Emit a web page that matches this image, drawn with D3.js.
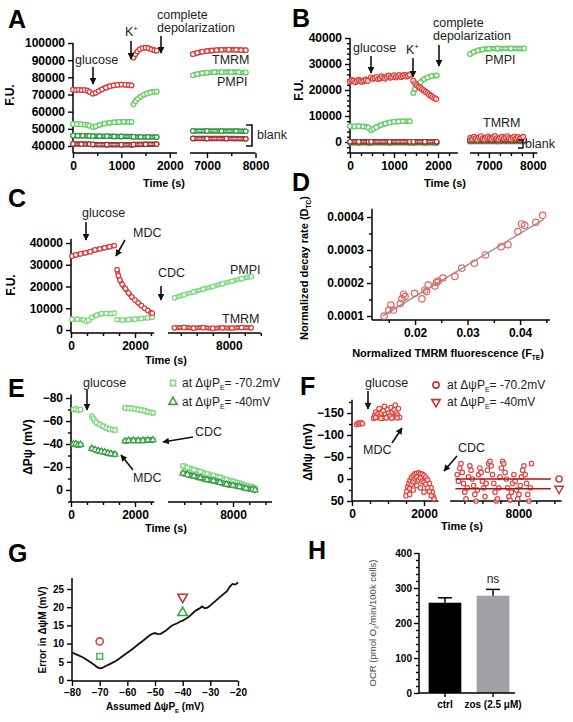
<!DOCTYPE html>
<html><head><meta charset="utf-8">
<script src="https://cdn.jsdelivr.net/npm/d3@7"></script>
<style>
body{margin:0;background:#fff;}
svg text{font-family:"Liberation Sans",Arial,Helvetica,sans-serif;}
</style></head><body>
<script>
// ---------------- DATA ----------------
const RED = "#d8423e", DRED = "#a33434", GRN = "#66cf66", DGRN = "#2f9a45";
const LGRN_E = "#86d886", DGRN_E = "#3e9f4c";

// Panel A (time s, F.U.)
const A_TMRM = [
  [[0,72800],[60,72600],[120,72700],[180,72500],[240,72600],[300,72200],[340,71500]],
  [[410,70500],[470,71000],[530,72000],[600,73000],[680,74000],[760,74800],[840,75300],[920,75600],[1000,75800],[1080,75700],[1150,75500],[1210,75300]],
  [[1250,91500],[1290,93500],[1330,95000],[1380,96300],[1440,97000],[1500,97300],[1560,97000],[1620,96300],[1680,95800],[1730,95500]],
  [[6710,93500],[6800,94300],[6900,94900],[7000,95300],[7100,95600],[7200,95800],[7300,96000],[7450,96100],[7600,96000],[7700,95900],[7800,95800]]
];
const A_PMPI = [
  [[0,52800],[80,52700],[160,52600],[240,52500],[300,52300],[340,51800]],
  [[410,51000],[470,51500],[550,52300],[650,53000],[750,53500],[850,53800],[950,54000],[1050,54100],[1150,54000],[1210,54000]],
  [[1250,64300],[1290,66000],[1340,67500],[1400,68800],[1460,69800],[1530,70600],[1600,71200],[1680,71600],[1730,71700]],
  [[6710,81200],[6800,81900],[6900,82400],[7000,82700],[7150,83000],[7300,83100],[7500,83100],[7650,83000],[7800,82800]]
];
const A_blankG = [
  [[0,46100],[100,46000],[200,46000],[300,45900],[340,45900]],
  [[410,45800],[550,45700],[700,45700],[850,45600],[1000,45600],[1210,45500]],
  [[1250,45400],[1400,45300],[1550,45300],[1730,45200]],
  [[6710,48800],[7000,48800],[7300,48700],[7600,48700],[7800,48600]]
];
const A_blankR = [
  [[0,41200],[170,41100],[340,41100]],
  [[410,40900],[700,40800],[1000,40800],[1210,40700]],
  [[1250,40900],[1500,41000],[1730,41100]],
  [[6710,44400],[7000,44300],[7400,44300],[7800,44200]]
];
const A_yTicks = [40000,50000,60000,70000,80000,90000,100000];

// Panel B
const B_TMRM = [
  [[0,23300],[40,23800],[80,23500],[120,23000],[160,23600],[200,23900],[240,23400],[280,23200],[320,23700],[360,24000],[400,23500]],
  [[480,24800],[520,24300],[560,24600],[600,25000],[640,24200],[680,24500],[720,25200],[760,24700],[800,24400],[840,25100],[880,25500],[920,24800],[960,25000],[1000,25600],[1040,24900],[1080,25300],[1120,25700],[1160,25000],[1200,25400],[1240,25800],[1280,25200],[1320,25500],[1360,25900]],
  [[1440,23500],[1480,22500],[1520,21800],[1560,21200],[1600,20800],[1640,20200],[1680,19800],[1720,19300],[1760,18800],[1800,18200],[1840,17800],[1880,17300],[1920,16900],[1960,16500]],
  [[6580,1600],[6620,1100],[6660,2000],[6700,1400],[6740,900],[6780,1800],[6820,2200],[6860,1300],[6900,1000],[6940,1700],[6980,2100],[7020,1500],[7060,1200],[7100,1900],[7140,2300],[7180,1400],[7220,1000],[7260,1600],[7300,2000],[7340,1300],[7380,1800],[7420,2200],[7460,1500],[7500,1100],[7540,1700],[7580,2100],[7620,1400],[7660,1900],[7700,1200],[7740,1600],[7780,2000]]
];
const B_PMPI = [
  [[0,6100],[100,6000],[200,6100],[300,6000],[380,5800],[420,5500]],
  [[480,4500],[530,5000],[600,5700],[700,6500],[800,7100],[900,7500],[1000,7800],[1100,7900],[1200,8000],[1360,8000]],
  [[1440,18800],[1480,20500],[1530,21800],[1600,23000],[1680,24100],[1760,24800],[1850,25300],[1970,25600]],
  [[6570,33800],[6650,34600],[6750,35200],[6850,35600],[7000,35900],[7200,36000],[7500,36000],[7800,36000]]
];
const B_blankG = [
  [[0,-300],[200,-300],[420,-300]],
  [[480,-300],[900,-300],[1360,-300]],
  [[1440,-300],[1700,-300],[1970,-300]],
  [[6570,200],[7200,200],[7800,200]]
];
const B_blankR = [
  [[0,100],[200,100],[420,100]],
  [[480,100],[900,100],[1360,100]],
  [[1440,100],[1700,100],[1970,100]],
  [[6570,700],[7200,700],[7800,700]]
];
const B_yTicks = [0,10000,20000,30000,40000];

// Panel C
const C_TMRM = [
  [[30,34000],[150,34500],[300,35000],[450,35500],[600,36000],[750,36800],[900,37300],[1050,37800],[1200,38300],[1350,38800]],
  [[1440,27800],[1480,25000],[1530,23000],[1600,21000],[1700,19000],[1800,17000],[1900,15200],[2000,13800],[2100,12500],[2200,11200],[2300,10000],[2400,9000],[2500,8000],[2540,7700]],
  [[6300,1000],[6600,1200],[6900,900],[7200,1100],[7500,800],[7800,1000],[8100,900],[8400,1100],[8700,1000]]
];
const C_PMPI = [
  [[30,5000],[200,5000],[400,4700],[480,4000],[550,4500],[650,5800],[800,6800],[950,7500],[1100,7600],[1250,7500],[1350,7800]],
  [[1440,4800],[1600,4600],[1800,4800],[2000,5000],[2200,5300],[2400,5600],[2540,5900]],
  [[6300,14800],[6600,16200],[6900,17500],[7200,18800],[7500,20000],[7800,21300],[8100,22500],[8400,23600],[8700,24600]]
];
const C_yTicks = [0,10000,20000,30000,40000];

// Panel D
const D_x = [0.0141,0.0150,0.0154,0.0159,0.0172,0.0175,0.0178,0.0181,0.0199,0.0213,0.0219,0.0222,0.0225,0.0238,0.0241,0.0244,0.0253,0.0276,0.0289,0.0313,0.0334,0.0364,0.0377,0.0396,0.0403,0.0409,0.0430,0.0443];
const D_y = [0.000100,0.000118,0.000133,0.000118,0.000138,0.000152,0.000166,0.000159,0.000169,0.000152,0.000179,0.000174,0.000194,0.000191,0.000202,0.000206,0.000215,0.000220,0.000245,0.000260,0.000285,0.000310,0.000316,0.000356,0.000379,0.000375,0.000384,0.000405];
const D_fitX = [0.0138,0.0445];
const D_fitY = [0.000100,0.000393];
const D_yTicks = [0.0001,0.0002,0.0003,0.0004];
const D_xTicks = [0.02,0.03,0.04];

// Panel E
const E_at70 = [
  [[80,-70],[150,-70.5],[220,-69.5],[300,-70]],
  [[650,-64],[700,-62],[750,-60],[800,-58.5],[900,-57],[1000,-55.5],[1100,-54],[1200,-53],[1300,-52.5],[1375,-52]],
  [[1690,-71.5],[1800,-71],[1900,-71],[2000,-70.5],[2100,-70],[2200,-69.5],[2300,-69],[2400,-68],[2500,-67.5],[2560,-67]],
  [[6460,-21],[6600,-19.5],[6800,-17.5],[7000,-16],[7200,-14],[7400,-12.5],[7600,-11],[7800,-9],[8000,-7.5],[8200,-6],[8400,-4],[8600,-2.5],[8680,-1.5]]
];
const E_at40 = [
  [[80,-40],[150,-40],[220,-39],[300,-39.5]],
  [[650,-36],[750,-35],[850,-34],[950,-33.5],[1050,-33],[1150,-32],[1250,-31.5],[1375,-31]],
  [[1690,-42.5],[1800,-43],[1950,-43],[2100,-43],[2250,-43],[2400,-43.5],[2560,-43.5]],
  [[6460,-14.5],[6600,-13.5],[6800,-12],[7000,-10.5],[7200,-9],[7400,-8],[7600,-6.5],[7800,-5],[8000,-4],[8200,-3],[8400,-1.5],[8600,-0.5],[8680,0]]
];
const E_yTicks = [0,-20,-40,-60,-80];

// Panel F
const F_pts = [
  [130,-124],[170,-127],[210,-125],[250,-128],[290,-126],
  [600,-138],[630,-145],[660,-152],[690,-140],[720,-148],[750,-160],[780,-143],[810,-150],[840,-138],[870,-155],[900,-165],[930,-147],[960,-140],[990,-158],[1020,-150],[1050,-143],[1080,-162],[1110,-152],[1140,-140],[1170,-157],[1200,-168],[1230,-150],[1260,-145],[1290,-160],[1320,-140],[650,-140],[800,-138],[950,-139],[1100,-138],[1250,-139],
  [1500,38],[1520,28],[1550,18],[1580,10],[1610,3],[1650,-3],[1700,-8],[1750,-12],[1800,-13],[1850,-14],[1900,-12],[1950,-11],[2000,-8],[2050,-4],[2100,2],[2150,10],[2200,20],[2230,30],[2260,40],[2280,45],[1600,22],[1650,12],[1700,6],[1750,0],[1800,-4],[1850,2],[1900,-2],[1950,5],[2000,8],[2050,12],[2100,20],[2150,28],[2200,38],[1700,25],[1800,15],[1900,20],[2000,30],[1600,35],
  [6300,-10],[6335,5],[6370,-25],[6405,-35],[6440,-15],[6475,10],[6510,30],[6545,45],[6580,20],[6615,-5],[6650,-30],[6685,-20],[6720,0],[6755,15],[6790,35],[6825,50],[6860,25],[6895,-10],[6930,-25],[6965,-15],[7000,5],[7035,20],[7070,40],[7105,10],[7140,-20],[7175,-35],[7210,-40],[7245,-30],[7280,-10],[7315,10],[7350,30],[7385,50],[7420,45],[7455,20],[7490,-5],[7525,-25],[7560,-40],[7595,-35],[7630,-15],[7665,0],[7700,20],[7735,40],[7770,48],[7805,30],[7840,10],[7875,-10],[7910,5],[7945,25],[7980,45],[8015,35],[8050,15],[8085,-5],[8120,-20],[8155,-30],[8190,-10],[8225,10],[8260,35],[8295,50],[8330,20],[8365,-35]
];
const F_lines = [0, 22];
const F_lineT = [6250, 8900];
const F_yTicks = [50,0,-50,-100,-150];

// Panel G
const G_curve = [[-80,7.5],[-78,6.9],[-76,6.2],[-74,5.2],[-72,4.2],[-71,3.6],[-70,3.2],[-69,3.3],[-68,3.8],[-66,4.5],[-64,5.3],[-62,6.4],[-60,7.5],[-58,8.6],[-56,9.8],[-54,11],[-52,12.2],[-51,12.7],[-50,12.9],[-49,12.6],[-48,12.7],[-46,13.6],[-44,14.9],[-42,15.6],[-41,16],[-40,16.3],[-38,17.2],[-36,18.6],[-35,19.2],[-34,19.6],[-33,20.2],[-32,19.7],[-31,19.9],[-30,20.5],[-28,21.8],[-26,23.1],[-24,24.4],[-23,25.6],[-22,26.4],[-21,26.2],[-20,26.8]];
const G_marks = [
  {x:-70, y:10.6, shape:"circle", color:RED},
  {x:-70, y:6.5, shape:"square", color:"#4cbf4c"},
  {x:-40, y:22.8, shape:"down", color:"#b83a3a"},
  {x:-40, y:18.5, shape:"up", color:"#3aa648"}
];
const G_xTicks = [-80,-70,-60,-50,-40,-30,-20];
const G_yTicks = [0,5,10,15,20,25];

// Panel H
const H_cats = ["ctrl","zos (2.5 \u03bcM)"];
const H_vals = [258, 278];
const H_err = [14, 18];
const H_colors = ["#000000","#a2a2a6"];
const H_yTicks = [0,100,200,300,400];
const H_yMinor = [20,40,60,80,120,140,160,180,220,240,260,280,320,340,360,380];

// ---------------- DRAWING ----------------
const svg = d3.select("body").append("svg").attr("width",573).attr("height",722);

function styleAxis(sel, fs){
  sel.selectAll("path.domain").remove();
  sel.selectAll("line").attr("stroke","#000").attr("stroke-width",1.4);
  sel.selectAll("text").attr("font-size",fs).attr("font-weight","bold").attr("fill","#000");
}
function vline(g,x,y1,y2){ g.append("line").attr("x1",x).attr("x2",x).attr("y1",y1).attr("y2",y2).attr("stroke","#000").attr("stroke-width",1.5); }
function hline(g,y,x1,x2){ g.append("line").attr("x1",x1).attr("x2",x2).attr("y1",y).attr("y2",y).attr("stroke","#000").attr("stroke-width",1.5); }

function axes(o){
  const g = svg.append("g");
  const x0 = o.xs[0].s.range()[0];
  const fs = o.fs || 12;
  styleAxis(g.append("g").attr("transform",`translate(${x0},0)`)
    .call(d3.axisLeft(o.y).tickValues(o.yTicks).tickSize(5).tickPadding(3).tickFormat(o.yFmt || d3.format("d"))), fs);
  if (o.yMinor) styleAxis(g.append("g").attr("transform",`translate(${x0},0)`)
    .call(d3.axisLeft(o.y).tickValues(o.yMinor).tickSize(3).tickFormat("")), fs);
  vline(g, x0, o.xAxisY, o.y(o.yTop));
  o.xs.forEach(a=>{
    styleAxis(g.append("g").attr("transform",`translate(0,${o.xAxisY})`)
      .call(d3.axisBottom(a.s).tickValues(a.major).tickSize(5).tickPadding(3).tickFormat(a.fmt || d3.format("d"))), fs);
    if (a.minor) styleAxis(g.append("g").attr("transform",`translate(0,${o.xAxisY})`)
      .call(d3.axisBottom(a.s).tickValues(a.minor).tickSize(3).tickFormat("")), fs);
    hline(g, o.xAxisY, a.s.range()[0], a.s.range()[1]);
  });
  return g;
}

function txt(x,y,s,opt={}){
  return svg.append("text").attr("x",x).attr("y",y).text(s)
    .attr("font-size",opt.fs||12.5).attr("fill",opt.fill||"#222")
    .attr("font-weight",opt.bold?"bold":"normal").attr("text-anchor",opt.anchor||"start");
}
function rtxt(x,y,s,opt={}){
  return svg.append("text").attr("transform",`translate(${x},${y}) rotate(-90)`)
    .attr("text-anchor","middle").attr("font-size",opt.fs||12).attr("font-weight",opt.bold===false?"normal":"bold")
    .attr("fill",opt.fill||"#000").text(s);
}
function letter(x,y,s){ txt(x,y,s,{fs:25,bold:true,fill:"#000"}); }

svg.append("defs").append("marker").attr("id","ah").attr("viewBox","0 0 10 10").attr("refX",9).attr("refY",5)
  .attr("markerWidth",4.2).attr("markerHeight",4.2).attr("orient","auto")
  .append("path").attr("d","M0,0 L10,5 L0,10 Z").attr("fill","#111");
function arrow(x1,y1,x2,y2){
  svg.append("line").attr("x1",x1).attr("y1",y1).attr("x2",x2).attr("y2",y2)
    .attr("stroke","#111").attr("stroke-width",1.6).attr("marker-end","url(#ah)");
}

const symGen = (shape,size)=>{
  const t = shape==="square"?d3.symbolSquare: (shape==="up"||shape==="down")?d3.symbolTriangle:d3.symbolCircle;
  return d3.symbol().type(t).size(size)();
};

function band(g, segs, xf, y, color, opts={}){
  const line = d3.line().x(d=>xf(d[0])).y(d=>y(d[1])).curve(d3.curveMonotoneX);
  const w = opts.w || 5.5;
  segs.forEach(seg=>{
    g.append("path").attr("d",line(seg)).attr("fill","none").attr("stroke",color).attr("stroke-width",w).attr("stroke-linecap","round");
    g.append("path").attr("d",line(seg)).attr("fill","none").attr("stroke","#fff").attr("stroke-width",w*0.32).attr("stroke-opacity",0.6).attr("stroke-linecap","round").attr("stroke-dasharray","3 2");
    g.selectAll(null).data(seg).enter().append("path")
      .attr("d",symGen(opts.shape||"circle",opts.size||16))
      .attr("transform",d=>`translate(${xf(d[0])},${y(d[1])})${opts.shape==="down"?" rotate(180)":""}`)
      .attr("fill","#fff").attr("stroke",color).attr("stroke-width",1.2);
  });
}
function dots(g, pts, xf, y, color, size=18){
  g.selectAll(null).data(pts).enter().append("circle")
    .attr("cx",d=>xf(d[0])).attr("cy",d=>y(d[1])).attr("r",Math.sqrt(size/Math.PI))
    .attr("fill","#fff").attr("fill-opacity",0.6).attr("stroke",color).attr("stroke-width",1.2);
}
const split = (x1,x2,cut)=> t => t < cut ? x1(t) : x2(t);
function subTxt(t, sub, rest, fs){
  t.append("tspan").text(sub).attr("font-size",fs).attr("dy",3);
  t.append("tspan").text(rest).attr("dy",-3);
}

// ===== Panel A =====
{
  const x1 = d3.scaleLinear().domain([0,2150]).range([73,177]);
  const x2 = d3.scaleLinear().domain([6650,8000]).range([190,255.5]);
  const y = d3.scaleLinear().domain([40000,100000]).range([146,43]);
  const xf = split(x1,x2,4000);
  axes({y, yTicks:A_yTicks, yTop:100000, xAxisY:153,
    xs:[{s:x1,major:[0,1000,2000],minor:[500,1500]},{s:x2,major:[7000,8000],minor:[7500]}]});
  const g = svg.append("g");
  band(g, A_blankR, xf, y, DRED);
  band(g, A_blankG, xf, y, DGRN);
  band(g, A_PMPI, xf, y, GRN);
  band(g, A_TMRM, xf, y, RED);
  letter(8,28,"A");
  rtxt(14,95,"F.U.");
  txt(164,187,"Time (s)",{fs:11,bold:true,fill:"#000",anchor:"middle"});
  txt(75,64,"glucose"); arrow(93,67,93,84);
  const k = txt(125,36,"K"); k.append("tspan").text("+").attr("font-size",8).attr("dy",-5);
  arrow(131,41,131,59);
  txt(157,19,"complete"); txt(157,32,"depolarization"); arrow(161,36,161,53);
  txt(212,64,"TMRM"); txt(217,86,"PMPI"); txt(257,139,"blank");
  svg.append("path").attr("d","M246,125 H252 V146 H246").attr("fill","none").attr("stroke","#111").attr("stroke-width",1.6);
}

// ===== Panel B =====
{
  const x1 = d3.scaleLinear().domain([0,2450]).range([350,457.8]);
  const x2 = d3.scaleLinear().domain([6570,8100]).range([470,537.3]);
  const y = d3.scaleLinear().domain([0,40000]).range([142,38]);
  const xf = split(x1,x2,4000);
  axes({y, yTicks:B_yTicks, yMinor:[-4000,-2000,2000,4000,6000,8000,12000,14000,16000,18000,22000,24000,26000,28000,32000,34000,36000,38000], yTop:40000, xAxisY:153,
    xs:[{s:x1,major:[0,1000,2000],minor:[250,500,750,1250,1500,1750,2250]},{s:x2,major:[7000,8000],minor:[6750,7250,7500,7750]}]});
  const g = svg.append("g");
  band(g, B_blankG, xf, y, DGRN);
  band(g, B_blankR, xf, y, DRED);
  band(g, B_PMPI, xf, y, GRN);
  B_TMRM.forEach(s=>dots(g, s, xf, y, RED, 20));
  letter(292,27,"B");
  rtxt(303,90,"F.U.");
  txt(445,187,"Time (s)",{fs:11,bold:true,fill:"#000",anchor:"middle"});
  txt(353,52,"glucose"); arrow(371,56,371,73);
  const k = txt(406,54,"K"); k.append("tspan").text("+").attr("font-size",8).attr("dy",-5);
  arrow(413,58,413,77);
  txt(433,27,"complete"); txt(433,40,"depolarization"); arrow(439,45,439,66);
  txt(485,64,"PMPI"); txt(483,127,"TMRM");
  svg.append("path").attr("d","M518,140 H523 V148 H518").attr("fill","none").attr("stroke","#111").attr("stroke-width",1.4);
  txt(525,148,"blank");
}

// ===== Panel C =====
{
  const x1 = d3.scaleLinear().domain([0,2600]).range([71,154.2]);
  const x2 = d3.scaleLinear().domain([6100,9000]).range([168,260.8]);
  const y = d3.scaleLinear().domain([0,40000]).range([330,243]);
  const xf = split(x1,x2,4000);
  axes({y, yTicks:C_yTicks, yTop:42000, xAxisY:333,
    xs:[{s:x1,major:[0,2000],minor:[500,1000,1500,2500]},{s:x2,major:[8000],minor:[6500,7000,7500,8500,9000]}]});
  const g = svg.append("g");
  band(g, C_PMPI, xf, y, "#7fd97f", {w:5});
  band(g, C_TMRM, xf, y, RED, {w:5});
  letter(8,207,"C");
  rtxt(15,285,"F.U.");
  txt(166,364,"Time (s)",{fs:11,bold:true,fill:"#000",anchor:"middle"});
  txt(82,217,"glucose"); arrow(86,222,86,240);
  txt(133,237,"MDC"); arrow(125,240,116,256);
  txt(158,277,"CDC"); arrow(161,286,161,300);
  txt(230,274,"PMPI"); txt(222,323,"TMRM");
}

// ===== Panel D =====
{
  const x = d3.scaleLinear().domain([0.0118,0.0457]).range([372,550]);
  const y = d3.scaleLinear().domain([0.0001,0.0004]).range([316,217]);
  axes({y, yTicks:D_yTicks, yMinor:[0.00015,0.00025,0.00035], yFmt:d3.format(".4f"), yTop:0.000425, xAxisY:320,
    xs:[{s:x, major:D_xTicks, minor:[0.015,0.025,0.035,0.045], fmt:d3.format(".2f")}]});
  const g = svg.append("g");
  g.append("line").attr("x1",x(D_fitX[0])).attr("y1",y(D_fitY[0])).attr("x2",x(D_fitX[1])).attr("y2",y(D_fitY[1]))
    .attr("stroke","#9a9a9a").attr("stroke-width",1.5);
  g.selectAll(null).data(D_x).enter().append("circle")
    .attr("cx",d=>x(d)).attr("cy",(d,i)=>y(D_y[i])).attr("r",3.2)
    .attr("fill","none").attr("stroke","#e06464").attr("stroke-width",1.2);
  letter(292,191,"D");
  subTxt(rtxt(308,268,"Normalized decay rate (D",{fs:11}), "TC", ")", 6.5);
  subTxt(txt(448,357,"Normalized TMRM fluorescence (F",{fs:11,bold:true,fill:"#000",anchor:"middle"}), "TE", ")", 6.5);
}

// ===== Panel E =====
{
  const x1 = d3.scaleLinear().domain([0,2600]).range([71,154.2]);
  const x2 = d3.scaleLinear().domain([6000,9200]).range([168,272]);
  const y = d3.scaleLinear().domain([0,-80]).range([490,398]);
  const xf = split(x1,x2,4000);
  axes({y, yTicks:E_yTicks, yMinor:[10,-10,-30,-50,-70], yTop:-83, xAxisY:502,
    xs:[{s:x1,major:[0,2000],minor:[500,1000,1500,2500]},{s:x2,major:[8000],minor:[6500,7000,7500,8500,9000]}]});
  const g = svg.append("g");
  band(g, E_at70, xf, y, LGRN_E, {shape:"square", size:16, w:6});
  band(g, E_at40, xf, y, DGRN_E, {shape:"up", size:16, w:6});
  letter(8,397,"E");
  rtxt(32,447,"\u0394P\u03c8 (mV)");
  txt(166,532,"Time (s)",{fs:11,bold:true,fill:"#000",anchor:"middle"});
  txt(83,387,"glucose"); arrow(87,390,87,410);
  txt(195,436,"CDC"); arrow(193,437,163,442);
  txt(133,482,"MDC"); arrow(133,470,121,455);
  g.append("path").attr("d",symGen("square",28)).attr("transform","translate(173,383)").attr("fill","none").attr("stroke",LGRN_E).attr("stroke-width",1.6);
  g.append("path").attr("d",symGen("up",30)).attr("transform","translate(173,402)").attr("fill","none").attr("stroke",DGRN_E).attr("stroke-width",1.6);
  [["-70.2mV",387],["-40mV",406]].forEach(([v,yy])=>{
    subTxt(txt(182,yy,"at \u0394\u03c8P",{fs:12}), "E", "= "+v, 7);
  });
}

// ===== Panel F =====
{
  const x1 = d3.scaleLinear().domain([0,2400]).range([352,438.4]);
  const x2 = d3.scaleLinear().domain([6100,9200]).range([450,561.6]);
  const y = d3.scaleLinear().domain([50,-150]).range([501,413]);
  const xf = split(x1,x2,4000);
  axes({y, yTicks:F_yTicks, yMinor:[25,-25,-75,-125,-175], yTop:-180, xAxisY:501,
    xs:[{s:x1,major:[0,2000],minor:[500,1000,1500]},{s:x2,major:[8000],minor:[6500,7000,7500,8500,9000]}]});
  const g = svg.append("g");
  dots(g, F_pts, xf, y, "#d84a46", 16);
  F_lines.forEach(v=>{
    g.append("line").attr("x1",x2(F_lineT[0])).attr("x2",x2(F_lineT[1])).attr("y1",y(v)).attr("y2",y(v))
      .attr("stroke","#b21515").attr("stroke-width",1.6);
  });
  g.append("path").attr("d",symGen("circle",30)).attr("transform",`translate(${x2(9130)},${y(F_lines[0])})`).attr("fill","none").attr("stroke","#c83030").attr("stroke-width",1.4);
  g.append("path").attr("d",symGen("down",30)).attr("transform",`translate(${x2(9130)},${y(F_lines[1])}) rotate(180)`).attr("fill","none").attr("stroke","#c83030").attr("stroke-width",1.4);
  letter(300,395,"F");
  rtxt(312,452,"\u0394M\u03c8 (mV)");
  txt(462,530,"Time (s)",{fs:11,bold:true,fill:"#000",anchor:"middle"});
  txt(365,387,"glucose"); arrow(368,391,368,409);
  txt(363,454,"MDC"); arrow(392,443,402,428);
  txt(458,452,"CDC"); arrow(457,456,444,471);
  g.append("path").attr("d",symGen("circle",30)).attr("transform","translate(436,385)").attr("fill","none").attr("stroke","#c83030").attr("stroke-width",1.6);
  g.append("path").attr("d",symGen("down",30)).attr("transform","translate(436,402) rotate(180)").attr("fill","none").attr("stroke","#c83030").attr("stroke-width",1.6);
  [["-70.2mV",389],["-40mV",406]].forEach(([v,yy])=>{
    subTxt(txt(447,yy,"at \u0394\u03c8P",{fs:12}), "E", "= "+v, 7);
  });
}

// ===== Panel G =====
{
  const x = d3.scaleLinear().domain([-80,-20]).range([72,238]);
  const y = d3.scaleLinear().domain([0,25]).range([680,589]);
  axes({y, yTicks:G_yTicks, yTop:28, xAxisY:681, fs:10, xs:[{s:x, major:G_xTicks}]});
  const g = svg.append("g");
  g.append("path").attr("d", d3.line().x(d=>x(d[0])).y(d=>y(d[1]))(G_curve))
    .attr("fill","none").attr("stroke","#111").attr("stroke-width",1.8);
  G_marks.forEach(m=>{
    g.append("path").attr("d",symGen(m.shape, m.shape==="square"?34:40))
      .attr("transform",`translate(${x(m.x)},${y(m.y)})${m.shape==="down"?" rotate(180)":""}`)
      .attr("fill","none").attr("stroke",m.color).attr("stroke-width",1.6);
  });
  letter(8,562,"G");
  rtxt(46,630,"Error in \u0394\u03c8M (mV)",{fs:10});
  subTxt(txt(155,710,"Assumed \u0394\u03c8P",{fs:10,bold:true,fill:"#000",anchor:"middle"}), "E", " (mV)", 6);
}

// ===== Panel H =====
{
  const x = d3.scaleBand().domain(H_cats).range([419,519]).paddingInner(0.32).paddingOuter(0.2);
  const y = d3.scaleLinear().domain([0,400]).range([693,553]);
  const g = svg.append("g");
  g.selectAll(null).data(H_cats).enter().append("rect")
    .attr("x",d=>x(d)).attr("width",x.bandwidth()).attr("y",(d,i)=>y(H_vals[i])).attr("height",(d,i)=>y(0)-y(H_vals[i]))
    .attr("fill",(d,i)=>H_colors[i]);
  H_cats.forEach((c,i)=>{
    const cx = x(c)+x.bandwidth()/2;
    g.append("line").attr("x1",cx).attr("x2",cx).attr("y1",y(H_vals[i])).attr("y2",y(H_vals[i]+H_err[i])).attr("stroke","#000").attr("stroke-width",1.5);
    g.append("line").attr("x1",cx-7).attr("x2",cx+7).attr("y1",y(H_vals[i]+H_err[i])).attr("y2",y(H_vals[i]+H_err[i])).attr("stroke","#000").attr("stroke-width",1.5);
  });
  styleAxis(g.append("g").attr("transform","translate(419,0)").call(d3.axisLeft(y).tickValues(H_yTicks).tickSize(5).tickPadding(2)),10);
  styleAxis(g.append("g").attr("transform","translate(419,0)").call(d3.axisLeft(y).tickValues(H_yMinor).tickSize(3).tickFormat("")),10);
  vline(g,419,693,553);
  styleAxis(g.append("g").attr("transform","translate(0,693)").call(d3.axisBottom(x).tickSize(4).tickPadding(4)),10);
  hline(g,693,419,515);
  txt(x(H_cats[1])+x.bandwidth()/2,583,"ns",{fs:12,anchor:"middle"});
  letter(308,559,"H");
  const t = rtxt(376,623,"OCR (pmol O",{fs:9.5,bold:false,fill:"#444"});
  t.append("tspan").text("2").attr("font-size",6).attr("dy",2);
  t.append("tspan").text("/min/100k cells)").attr("dy",-2);
}
</script></body></html>
